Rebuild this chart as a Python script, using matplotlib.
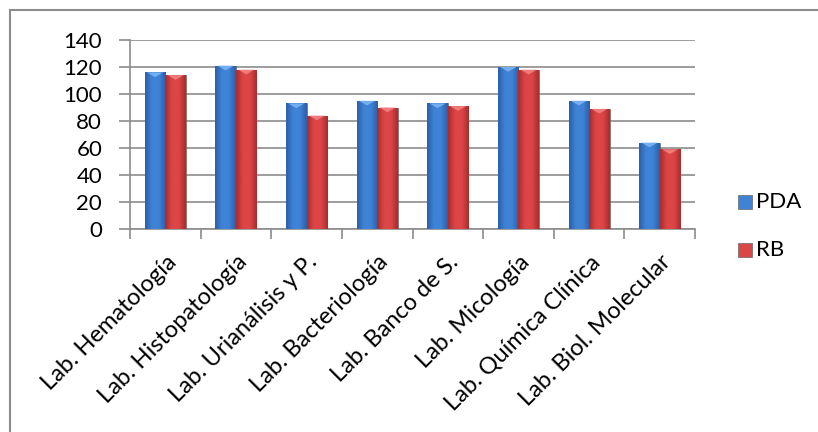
import numpy as np
import matplotlib
matplotlib.use("Agg")
import matplotlib.pyplot as plt
from matplotlib.colors import LinearSegmentedColormap
from matplotlib.patches import Polygon, Rectangle

categories = ["Lab. Hematología", "Lab. Histopatología", "Lab. Urianálisis y P.",
              "Lab. Bacteriología", "Lab. Banco de S.", "Lab. Micología",
              "Lab. Química Clínica", "Lab. Biol. Molecular"]
pda = [116, 121, 93, 95, 93, 120, 95, 64]
rb = [114, 118, 84, 90, 91, 118, 89, 59]
series_names = ["PDA", "RB"]
yticks = [0, 20, 40, 60, 80, 100, 120, 140]

plt.rcParams["font.family"] = ["Lato", "DejaVu Sans"]

fig = plt.figure(figsize=(8.18, 4.32), dpi=100)
ax = fig.add_axes([130 / 818, 1 - 229 / 432, 565 / 818, 189 / 432])

# chart frame (top and left edges visible)
fig.patches.append(Rectangle((10 / 818, -0.1), 1.2, 1 - 10 / 432 + 0.1,
                             transform=fig.transFigure, fill=False,
                             edgecolor="#8c8c8c", linewidth=1.5, zorder=0))

styles = {
    "PDA": dict(dark="#2b5fa8", mid="#3f83d6", cap="#7ab4f2"),
    "RB": dict(dark="#a82c2c", mid="#dc4646", cap="#f28080"),
}

x = np.arange(len(categories))
w = 0.29
for vals, name, off in [(pda, "PDA", -w / 2), (rb, "RB", w / 2)]:
    st = styles[name]
    bars = ax.bar(x + off, vals, width=w, color=st["mid"], edgecolor="#555555",
                  linewidth=0.4, zorder=3, label=name)
    cmap = LinearSegmentedColormap.from_list(
        name, [st["dark"], st["mid"], st["mid"], st["dark"]])
    grad = np.linspace(0, 1, 64).reshape(1, -1)
    for b in bars:
        bx, bw, bh = b.get_x(), b.get_width(), b.get_height()
        im = ax.imshow(grad, cmap=cmap, aspect="auto", zorder=3.5,
                       extent=(bx, bx + bw, 0, bh), interpolation="bicubic")
        im.set_clip_path(b)
        ax.add_patch(Polygon([(bx + 0.03, bh), (bx + bw - 0.03, bh),
                              (bx + bw / 2, bh - 3.5)], closed=True,
                             facecolor=st["cap"], edgecolor="none",
                             alpha=0.9, zorder=4))

ax.set_xlim(-0.5, len(categories) - 0.5)
ax.set_ylim(0, 140)
ax.set_yticks(yticks)
ax.set_yticklabels([str(t) for t in yticks], fontsize=16)
ax.grid(axis="y", color="#8c8c8c", linewidth=1.2, zorder=0)
ax.set_axisbelow(True)

ax.set_xticks(np.arange(len(categories) + 1) - 0.5, minor=False)
ax.set_xticklabels([])
ax.set_xticks(x, minor=True)
ax.set_xticklabels(categories, minor=True, rotation=45, ha="right",
                   rotation_mode="anchor", fontsize=17)
ax.tick_params(axis="x", which="minor", length=0, pad=16)
ax.tick_params(axis="x", which="major", length=7, color="#8c8c8c", width=1.2)
ax.tick_params(axis="y", length=8, color="#8c8c8c", width=1.2, pad=12)

for s in ["top", "right"]:
    ax.spines[s].set_visible(False)
for s in ["left", "bottom"]:
    ax.spines[s].set_color("#8c8c8c")
    ax.spines[s].set_linewidth(1.2)

# legend with small squares
for i, name in enumerate(series_names):
    st = styles[name]
    ly = 1 - (202 + 48 * i) / 432
    fig.patches.append(Rectangle((738 / 818, ly - 7 / 432), 14 / 818, 14 / 432,
                                 transform=fig.transFigure,
                                 facecolor=st["mid"], edgecolor="#666666",
                                 linewidth=0.5))
    fig.text(756 / 818, ly, name, fontsize=16, va="center", ha="left")

fig.savefig("out.png", dpi=100)
